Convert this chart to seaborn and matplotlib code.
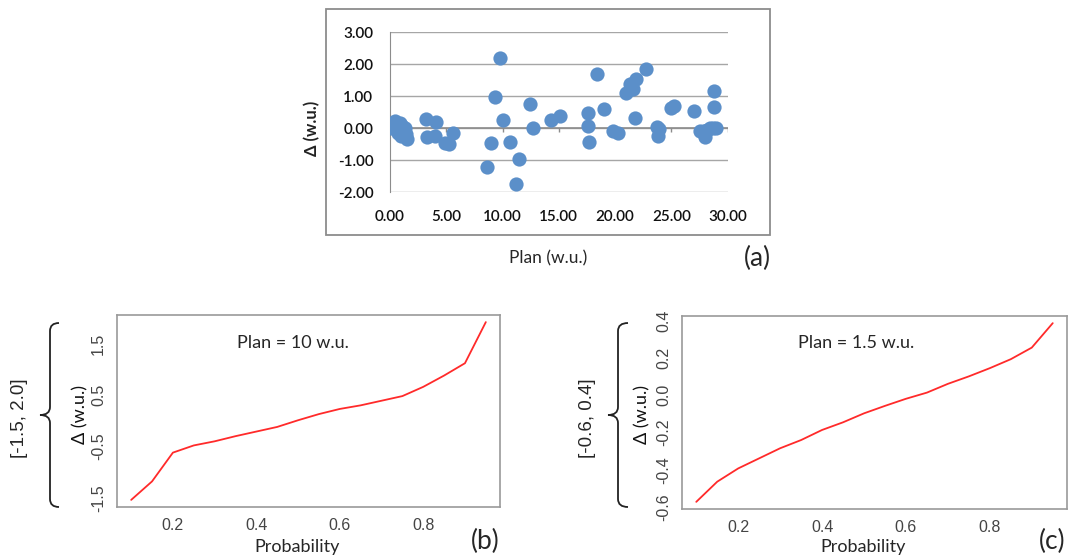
import numpy as np
import seaborn as sns
import matplotlib.pyplot as plt
from matplotlib.patches import Rectangle, PathPatch
from matplotlib.path import Path

# (a) scatter: plan value vs deviation
plan = [0.0, 0.4, 0.6, 0.9, 1.1, 1.3, 0.7, 1.0, 1.4, 1.5, 0.9,
        3.2, 4.1, 3.3, 4.0, 4.9, 5.2, 5.6,
        8.6, 8.95, 9.3, 9.8, 10.0, 10.7, 11.5, 11.2, 12.4, 12.7, 14.3, 15.1,
        17.6, 17.6, 17.7, 18.4, 19.0, 19.85, 20.3, 21.0, 21.3, 21.6, 21.9, 21.8, 22.75,
        23.7, 23.9, 23.8, 24.95, 25.2, 27.0, 27.55, 28.0, 27.9, 28.4, 28.7, 29.0, 28.8, 28.8, 28.2]
delta = [0.0, 0.22, 0.1, 0.15, 0.05, 0.0, -0.15, -0.25, -0.2, -0.35, -0.05,
         0.28, 0.19, -0.29, -0.24, -0.48, -0.51, -0.15,
         -1.21, -0.46, 0.96, 2.19, 0.25, -0.43, -0.98, -1.74, 0.75, -0.01, 0.25, 0.38,
         0.46, 0.06, -0.43, 1.69, 0.59, -0.09, -0.17, 1.08, 1.36, 1.21, 1.52, 0.32, 1.83,
         0.04, -0.04, -0.24, 0.61, 0.69, 0.53, -0.09, -0.29, -0.1, 0.01, 0.01, 0.01, 0.65, 1.16, -0.05]
a_xticks = [0, 5, 10, 15, 20, 25, 30]
a_yticks = [-2, -1, 0, 1, 2, 3]

# (b), (c) quantile curves
prob = [0.10, 0.15, 0.20, 0.25, 0.30, 0.35, 0.40, 0.45, 0.50,
        0.55, 0.60, 0.65, 0.70, 0.75, 0.80, 0.85, 0.90, 0.95]
delta_b = [-1.54, -1.18, -0.62, -0.48, -0.40, -0.30, -0.21, -0.12, 0.01,
           0.13, 0.23, 0.30, 0.39, 0.48, 0.66, 0.88, 1.12, 1.92]
delta_c = [-0.572, -0.464, -0.393, -0.339, -0.285, -0.241, -0.187, -0.146, -0.098,
           -0.058, -0.02, 0.013, 0.06, 0.10, 0.144, 0.192, 0.254, 0.385]
b_yticks = [-1.5, -1.0, -0.5, 0.0, 0.5, 1.0, 1.5, 2.0]
b_ylabels = ["-1.5", "", "-0.5", "", "0.5", "", "1.5", ""]
c_yticks = [-0.6, -0.4, -0.2, 0.0, 0.2, 0.4]
p_xticks = [0.2, 0.4, 0.6, 0.8]

W, H = 1071, 557
sns.set_style("white")
plt.rcParams['font.family'] = ['Lato', 'DejaVu Sans']

fig = plt.figure(figsize=(W / 100, H / 100), dpi=100)


def box(l, t, r, b):
    return [l / W, 1 - b / H, (r - l) / W, (b - t) / H]


def fx(x):
    return x / W


def fy(y):
    return 1 - y / H


# ---- (a) ----
ax = fig.add_axes(box(390, 32, 727.5, 192))
sns.scatterplot(x=plan, y=delta, ax=ax, s=105, color="#5b8fc9", linewidth=0, zorder=3)
ax.set_xlim(0, 30)
ax.set_ylim(-2, 3)
ax.set_yticks(a_yticks)
ax.set_yticklabels([f"{v:.2f}" for v in a_yticks])
ax.set_xticks(a_xticks)
ax.set_xticklabels([f"{v:.2f}" for v in a_xticks])
ax.yaxis.grid(True, color="#a6a6a6", lw=1)
ax.set_axisbelow(True)
for s in ["top", "right", "bottom"]:
    ax.spines[s].set_visible(False)
ax.spines["left"].set_color("#8c8c8c")
ax.axhline(0, color="#8c8c8c", lw=1.2, zorder=2)
ax.vlines(a_xticks, -0.13, 0, color="#8c8c8c", lw=1, zorder=2)
ax.tick_params(axis="y", length=4, color="#8c8c8c", direction="out", pad=8,
               labelsize=11, labelcolor="#111111")
ax.tick_params(axis="x", length=0, pad=13, labelsize=11, labelcolor="#111111")
for lab in ax.get_xticklabels() + ax.get_yticklabels():
    lab.set_fontweight("semibold")
ax.set_xlabel("")
fig.text(fx(312), fy(128), "Δ (w.u.)", rotation=90, ha="center", va="center",
         fontsize=12, fontweight="bold", color="#222222")
fig.text(fx(548), fy(258), "Plan (w.u.)", ha="center", va="center", fontsize=12.5)
fig.text(fx(757), fy(258), "(a)", ha="center", va="center", fontsize=19)
fig.add_artist(Rectangle((fx(326), fy(235)), (770 - 326) / W, (235 - 9) / H,
                         transform=fig.transFigure, fill=False,
                         edgecolor="#8c8c8c", lw=1.3))


# ---- (b), (c) ----
def brace(x, top, bot, tip, hook):
    mid = (top + bot) / 2
    r = 8
    verts = [(hook, top), (x, top), (x, top + r),
             (x, mid - r),
             (x, mid), (tip, mid),
             (x, mid), (x, mid + r),
             (x, bot - r),
             (x, bot), (hook, bot)]
    codes = [Path.MOVETO, Path.CURVE3, Path.CURVE3, Path.LINETO,
             Path.CURVE3, Path.CURVE3, Path.CURVE3, Path.CURVE3,
             Path.LINETO, Path.CURVE3, Path.CURVE3]
    verts = [(fx(vx), fy(vy)) for vx, vy in verts]
    fig.add_artist(PathPatch(Path(verts, codes), transform=fig.transFigure,
                             fill=False, edgecolor="#222222", lw=1.3))


def quantile_panel(rect, y, yticks, ylabels, ylab_x, note, note_x, letter, letter_x,
                   range_txt, range_x, br):
    ax = fig.add_axes(box(*rect))
    sns.lineplot(x=prob, y=y, ax=ax, color="#ff2a2a", lw=1.3, estimator=None)
    px = 0.04 * (max(prob) - min(prob))
    py = 0.04 * (max(y) - min(y))
    ax.set_xlim(min(prob) - px, max(prob) + px)
    ax.set_ylim(min(y) - py, max(y) + py)
    ax.set_xticks(p_xticks)
    ax.set_xticklabels([f"{v:.1f}" for v in p_xticks])
    ax.set_yticks(yticks)
    ax.set_yticklabels(ylabels, rotation=90, va="center")
    for s in ax.spines.values():
        s.set_color("#9a9a9a")
        s.set_linewidth(1.2)
    ax.tick_params(length=6, width=1, color="#9a9a9a", direction="out",
                   labelsize=11.5, labelcolor="#444444", pad=2)
    for lab in ax.get_xticklabels() + ax.get_yticklabels():
        lab.set_fontfamily(["Liberation Sans", "DejaVu Sans"])
    ax.set_xlabel("")
    ax.set_ylabel("")
    fig.text(fx(ylab_x), fy(414), "Δ (w.u.)", rotation=90, ha="center", va="center",
             fontsize=13, color="#111111")
    fig.text(fx((rect[0] + rect[2]) / 2 - 11), fy(547), "Probability",
             ha="center", va="center", fontsize=13)
    fig.text(fx(note_x), fy(343), note, ha="center", va="center", fontsize=13)
    fig.text(fx(letter_x), fy(541), letter, ha="center", va="center", fontsize=19)
    fig.text(fx(range_x), fy(418), range_txt, rotation=90, ha="center", va="center",
             fontsize=13.5, family=["Liberation Sans", "DejaVu Sans"])
    brace(*br)
    return ax


quantile_panel((117, 315, 500, 507), delta_b, b_yticks, b_ylabels, 80,
               "Plan = 10 w.u.", 293, "(b)", 485, "[-1.5, 2.0]", 20,
               (50, 323, 507, 40, 59))
quantile_panel((682, 316, 1067, 509), delta_c, c_yticks,
               [f"{v:.1f}" for v in c_yticks], 642,
               "Plan = 1.5 w.u.", 856, "(c)", 1052, "[-0.6, 0.4]", 588,
               (618, 323, 507, 608, 628))

fig.savefig("out.png", dpi=100)
